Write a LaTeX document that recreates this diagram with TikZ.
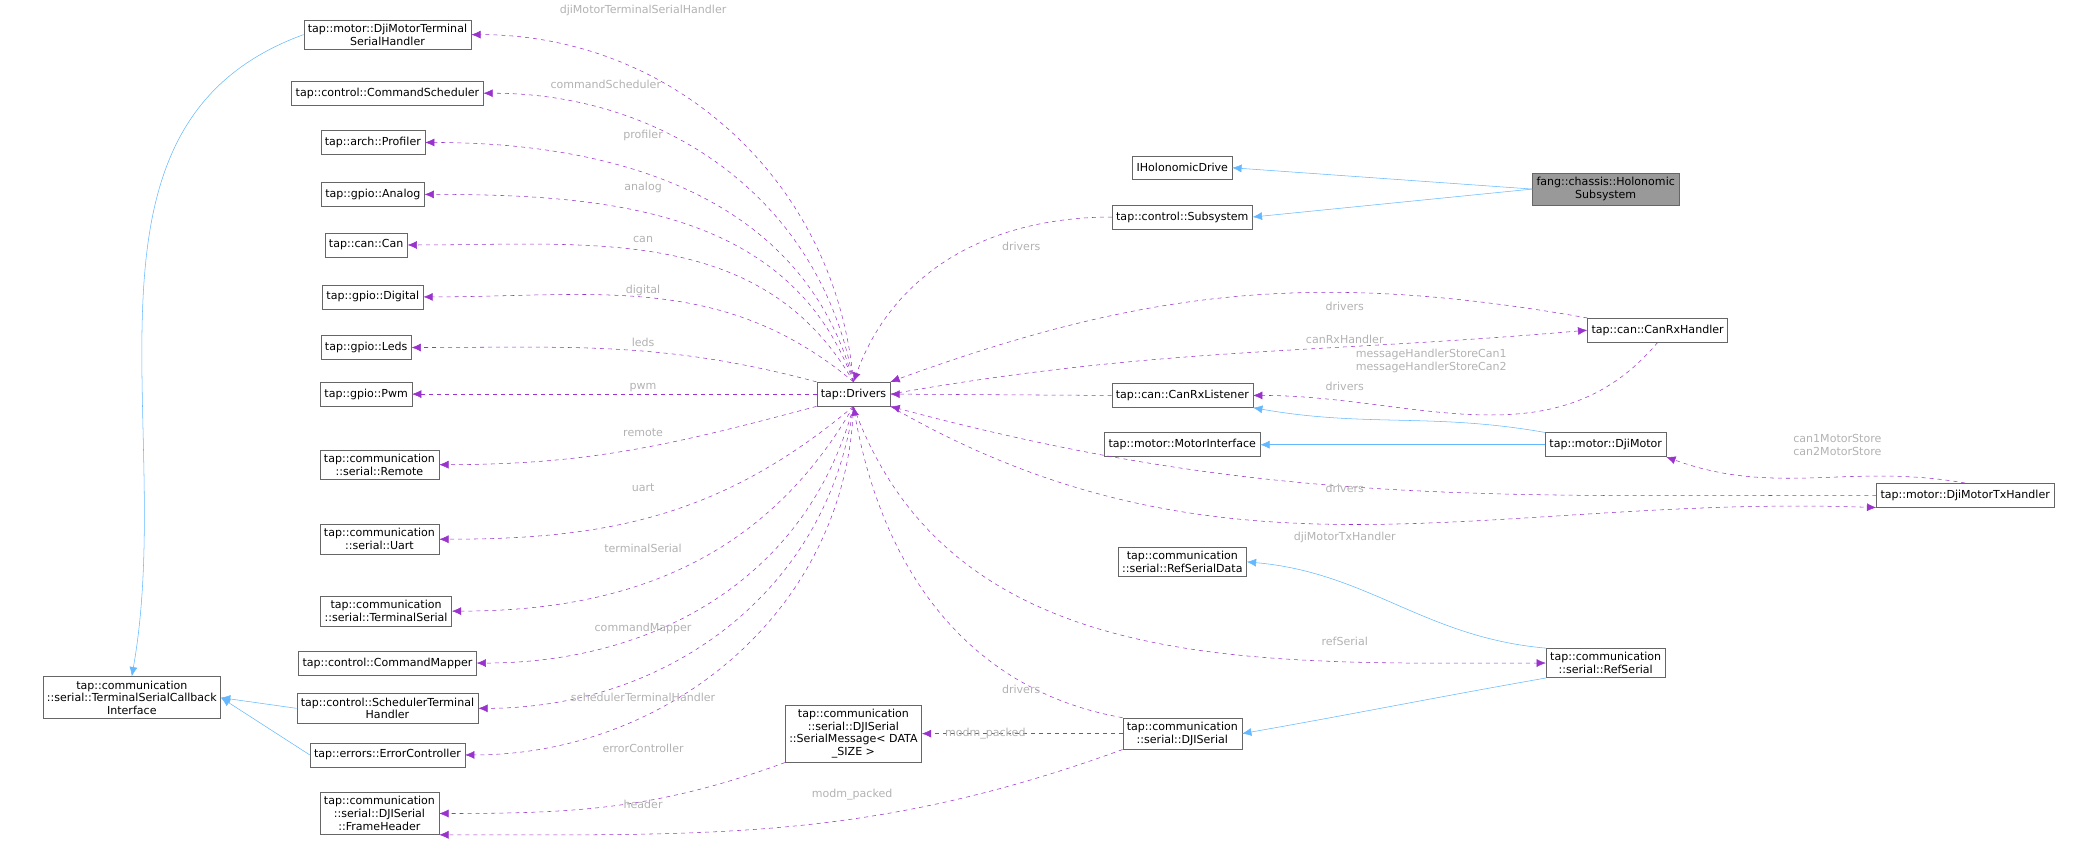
\documentclass[tikz,border=0pt]{standalone}
\usepackage{fontspec}
\setmainfont{DejaVu Sans}
\usetikzlibrary{arrows.meta}
\definecolor{inhc}{HTML}{63B8FF}
\definecolor{usec}{HTML}{9A32CD}
\begin{document}
\begin{tikzpicture}[x=1pt,y=-1pt,
 cls/.style={draw=black!60,fill=white,font=\fontsize{8.3}{9.6}\selectfont,align=center,inner sep=3pt,minimum height=18pt},
 lbl/.style={font=\fontsize{8.3}{9.6}\selectfont,text=black!30,align=center,inner sep=0pt},
 inh/.style={draw=inhc,-{Latex[length=7pt,width=6pt]}},
 use/.style={draw=usec,dashed,-{Latex[length=7pt,width=6pt]}}]
\useasboundingbox (0,0) rectangle (1560,635);
% left column
\node[cls] (dts) at (291,26) {tap::motor::DjiMotorTerminal\\SerialHandler};
\node[cls] (cs) at (291,70) {tap::control::CommandScheduler};
\node[cls] (prof) at (280,107) {tap::arch::Profiler};
\node[cls] (an) at (280,146) {tap::gpio::Analog};
\node[cls] (can) at (275,184) {tap::can::Can};
\node[cls] (dig) at (280,223) {tap::gpio::Digital};
\node[cls] (leds) at (275,261) {tap::gpio::Leds};
\node[cls] (pwm) at (275,296) {tap::gpio::Pwm};
\node[cls] (rem) at (285,349) {tap::communication\\::serial::Remote};
\node[cls] (uart) at (285,405) {tap::communication\\::serial::Uart};
\node[cls] (ts) at (290,459) {tap::communication\\::serial::TerminalSerial};
\node[cls] (cm) at (291,498) {tap::control::CommandMapper};
\node[cls] (sth) at (291,532) {tap::control::SchedulerTerminal\\Handler};
\node[cls] (ec) at (291,567) {tap::errors::ErrorController};
\node[cls] (fh) at (285,611) {tap::communication\\::serial::DJISerial\\::FrameHeader};
\node[cls] (tsci) at (99,524) {tap::communication\\::serial::TerminalSerialCallback\\Interface};
% center
\node[cls] (drv) at (641,296) {tap::Drivers};
\node[cls] (sm) at (641,551) {tap::communication\\::serial::DJISerial\\::SerialMessage< DATA\\\_SIZE >};
\node[cls] (ihd) at (888,126) {IHolonomicDrive};
\node[cls] (sub) at (888,163) {tap::control::Subsystem};
\node[cls] (crl) at (888,297) {tap::can::CanRxListener};
\node[cls] (mi) at (888,334) {tap::motor::MotorInterface};
\node[cls] (rsd) at (888,422) {tap::communication\\::serial::RefSerialData};
\node[cls] (dji) at (888,551) {tap::communication\\::serial::DJISerial};
% right
\node[cls,fill=black!40] (hol) at (1206,142) {fang::chassis::Holonomic\\Subsystem};
\node[cls] (crh) at (1245,248) {tap::can::CanRxHandler};
\node[cls] (dm) at (1206,334) {tap::motor::DjiMotor};
\node[cls] (dmt) at (1476,372) {tap::motor::DjiMotorTxHandler};
\node[cls] (rs) at (1206,498) {tap::communication\\::serial::RefSerial};
% inheritance
\draw[inh] (hol.west) -- (ihd.east);
\draw[inh] (hol.west) -- (sub.east);
\draw[inh] (dts.west) to[out=200,in=80] (tsci.north);
\draw[inh] (sth.west) -- (tsci.east);
\draw[inh] (ec.west) -- (tsci.east);
\draw[inh] (dm.north west) to[out=170,in=-10] (crl.south east);
\draw[inh] (dm.west) -- (mi.east);
\draw[inh] (rs.north west) to[out=175,in=-5] (rsd.east);
\draw[inh] (rs.south west) to[out=190,in=10] (dji.east);
% drivers members
\draw[use] (drv.north) to[out=95,in=0] (dts.east);
\draw[use] (drv.north) to[out=100,in=0] (cs.east);
\draw[use] (drv.north) to[out=105,in=0] (prof.east);
\draw[use] (drv.north) to[out=110,in=0] (an.east);
\draw[use] (drv.north) to[out=120,in=0] (can.east);
\draw[use] (drv.north) to[out=140,in=0] (dig.east);
\draw[use] (drv.north west) to[out=165,in=0] (leds.east);
\draw[use] (drv.west) -- (pwm.east);
\draw[use] (drv.south west) to[out=195,in=0] (rem.east);
\draw[use] (drv.south) to[out=220,in=0] (uart.east);
\draw[use] (drv.south) to[out=240,in=0] (ts.east);
\draw[use] (drv.south) to[out=255,in=0] (cm.east);
\draw[use] (drv.south) to[out=262,in=0] (sth.east);
\draw[use] (drv.south) to[out=268,in=0] (ec.east);
\draw[use] (sm.south west) to[out=200,in=0] (fh.east);
\draw[use] (dji.south west) to[out=200,in=0] (fh.south east);
\draw[use] (dji.west) -- (sm.east);
\draw[use] (dji.north west) to[out=170,in=-80] (drv.south);
\draw[use] (sub.west) to[out=180,in=70] (drv.north);
\draw[use] (crh.north west) to[out=170,in=20] (drv.north east);
\draw[use] (drv.east) to[out=10,in=185] (crh.west);
\draw[use] (crh.south) to[out=230,in=0] (crl.east);
\draw[use] (crl.west) -- (drv.east);
\draw[use] (dmt.north) to[out=170,in=-20] (dm.south east);
\draw[use] (dmt.west) to[out=180,in=-15] (drv.south east);
\draw[use] (drv.south east) to[out=-30,in=178] (dmt.south west);
\draw[use] (drv.south) to[out=-70,in=180] (rs.west);
% labels
\node[lbl] at (483,8) {djiMotorTerminalSerialHandler};
\node[lbl] at (455,63) {commandScheduler};
\node[lbl] at (483,102) {profiler};
\node[lbl] at (483,141) {analog};
\node[lbl] at (483,180) {can};
\node[lbl] at (483,218) {digital};
\node[lbl] at (483,257) {leds};
\node[lbl] at (483,291) {pwm};
\node[lbl] at (483,325) {remote};
\node[lbl] at (483,366) {uart};
\node[lbl] at (483,412) {terminalSerial};
\node[lbl] at (483,472) {commandMapper};
\node[lbl] at (483,524) {schedulerTerminalHandler};
\node[lbl] at (483,562) {errorController};
\node[lbl] at (483,604) {header};
\node[lbl] at (740,551) {modm\_packed};
\node[lbl] at (640,597) {modm\_packed};
\node[lbl] at (767,185) {drivers};
\node[lbl] at (1010,230) {drivers};
\node[lbl] at (1010,255) {canRxHandler};
\node[lbl] at (1010,290) {drivers};
\node[lbl] at (1075,271) {messageHandlerStoreCan1\\messageHandlerStoreCan2};
\node[lbl] at (1380,334) {can1MotorStore\\can2MotorStore};
\node[lbl] at (1010,367) {drivers};
\node[lbl] at (1010,404) {djiMotorTxHandler};
\node[lbl] at (1010,482) {refSerial};
\node[lbl] at (767,518) {drivers};
\end{tikzpicture}
\end{document}
